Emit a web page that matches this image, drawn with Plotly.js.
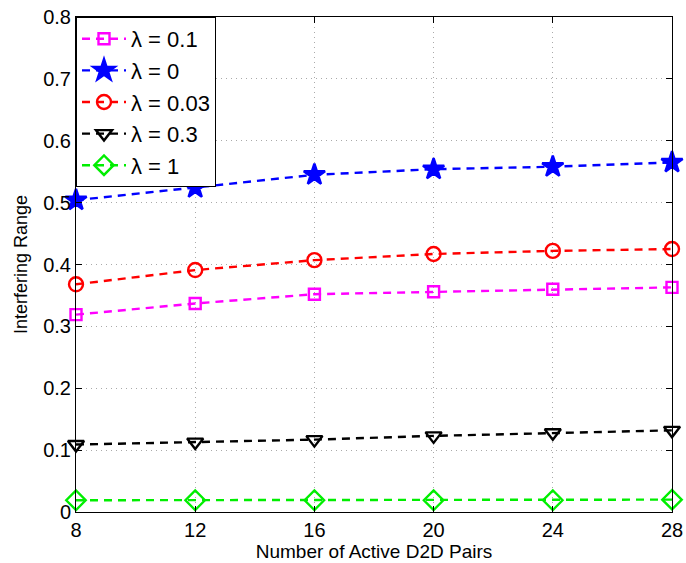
<!DOCTYPE html>
<html><head><meta charset="utf-8">
<script src="https://cdn.plot.ly/plotly-3.0.1.min.js"></script>
<style>body{margin:0;background:#fff}#g{width:686px;height:563px}</style>
</head><body><div id="g"></div>
<script>
const xVals = [8, 12, 16, 20, 24, 28];
const names = ['λ = 0.1', 'λ = 0', 'λ = 0.03', 'λ = 0.3', 'λ = 1'];
const lam01 = [0.319, 0.337, 0.352, 0.356, 0.360, 0.363];
const lam0 = [0.504, 0.524, 0.545, 0.554, 0.558, 0.565];
const lam003 = [0.368, 0.391, 0.407, 0.417, 0.422, 0.425];
const lam03 = [0.109, 0.113, 0.117, 0.123, 0.128, 0.132];
const lam1 = [0.019, 0.019, 0.019, 0.019, 0.019, 0.020];
const xTicks = [8, 12, 16, 20, 24, 28];
const yTicks = [0, 0.1, 0.2, 0.3, 0.4, 0.5, 0.6, 0.7, 0.8];

const series = [lam01, lam0, lam003, lam03, lam1];
const colors = ['#ff00ff', '#0000ff', '#ff0000', '#000000', '#00ee00'];
const symbols = ['square-open', 'star', 'circle-open', 'triangle-down-open', 'diamond-open'];
const sizes = [11, 16, 14, 14, 15];

const traces = series.map((s, i) => ({
  x: xVals, y: s, name: names[i], type: 'scatter', mode: 'lines+markers',
  line: {color: colors[i], width: 2.4, dash: '8px,6px'},
  marker: {symbol: symbols[i], size: sizes[i], color: colors[i],
           line: {color: colors[i], width: 2.4}},
  cliponaxis: false
}));

const FONT = 'Liberation Sans, Arial, sans-serif';
const axisCommon = {
  showline: true, linecolor: '#000', linewidth: 1, mirror: 'ticks',
  ticks: 'inside', ticklen: 6, tickcolor: '#000',
  showgrid: true, gridcolor: '#aaa', griddash: '1px,4px', gridwidth: 1,
  zeroline: false,
  tickfont: {family: FONT, size: 20, color: '#000'}
};

const layout = {
  width: 686, height: 563,
  margin: {l: 76, r: 14, t: 17, b: 51},
  paper_bgcolor: '#fff', plot_bgcolor: '#fff',
  showlegend: true,
  xaxis: Object.assign({}, axisCommon, {
    range: [8, 28], tickvals: xTicks, ticktext: xTicks.map(String),
    title: {text: 'Number of Active D2D Pairs', standoff: 0,
            font: {family: FONT, size: 19, color: '#000'}}
  }),
  yaxis: Object.assign({}, axisCommon, {
    range: [0, 0.8], tickvals: yTicks, ticktext: yTicks.map(v => v === 0 ? '0' : v.toFixed(1)),
    title: {text: 'Interfering Range', standoff: 10,
            font: {family: FONT, size: 18, color: '#000'}}
  }),
  legend: {
    x: 0, y: 1, xanchor: 'left', yanchor: 'top',
    bgcolor: '#fff', bordercolor: '#000', borderwidth: 1,
    font: {family: FONT, size: 22, color: '#000'},
    itemwidth: 44
  }
};

Plotly.newPlot('g', traces, layout, {displayModeBar: false, staticPlot: true});
</script></body></html>
